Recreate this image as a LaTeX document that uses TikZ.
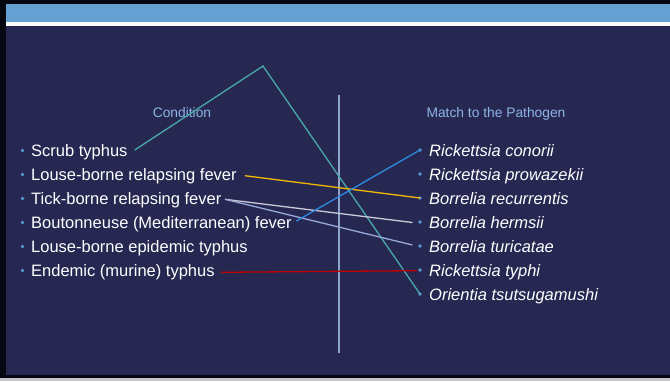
\documentclass[tikz,border=0pt]{standalone}
\usepackage{fontspec}
\setmainfont{Liberation Sans}
\usetikzlibrary{calc}
\definecolor{navy}{HTML}{262852}
\definecolor{band}{HTML}{64A0D2}
\definecolor{framek}{HTML}{050810}
\definecolor{greyb}{HTML}{C4C4C4}
\definecolor{headc}{HTML}{8EB4E3}
\definecolor{bulc}{HTML}{5B9BD5}
\definecolor{vline}{HTML}{8FA3CF}
\definecolor{tealc}{HTML}{4AA8A8}
\definecolor{goldc}{HTML}{F5B800}
\definecolor{bluec}{HTML}{2E8BE0}
\definecolor{whitec}{HTML}{C9CAD6}
\definecolor{lavc}{HTML}{9AAAD8}
\definecolor{redc}{HTML}{C00000}
\tikzset{
  item/.style={anchor=base west,inner sep=0pt,text=white,font=\fontsize{16.5}{20}\selectfont},
  ritem/.style={item,font=\fontsize{16.5}{20}\selectfont\itshape},
  head/.style={anchor=base,inner sep=0pt,text=headc,font=\fontsize{13.8}{16}\selectfont},
  dot/.style={circle,fill=bulc,inner sep=0pt,minimum size=3.6pt},
  link/.style={line width=1.3pt},
}
\begin{document}
\begin{tikzpicture}[x=1pt,y=-1pt]
\useasboundingbox (0,0) rectangle (670,381);
% frame and background
\fill[framek] (0,0) rectangle (670,381);
\fill[greyb] (0,378) rectangle (670,381);
\fill[band] (6,4) rectangle (670,22);
\fill[white] (6,22) rectangle (670,26);
\fill[navy] (6,26) rectangle (670,375);
% headings
\node[head] (hc) at (182,117) {Condition};
\node[head] (hm) at (496,117) {Match to the Pathogen};
% divider
\coordinate (vt) at (339,95);
\coordinate (vb) at (339,353);
\draw[vline,line width=1.3pt] (vt) -- (vb);
% left items
\foreach \i/\t in {1/Scrub typhus,2/Louse-borne relapsing fever,3/Tick-borne relapsing fever,4/Boutonneuse (Mediterranean) fever,5/Louse-borne epidemic typhus,6/Endemic (murine) typhus}{
  \node[dot] (lb\i) at (22.5,{150.5+24*(\i-1)}) {};
  \node[item] (l\i) at (31,{156.5+24*(\i-1)}) {\t};
}
% right items
\foreach \i/\t in {1/Rickettsia conorii,2/Rickettsia prowazekii,3/Borrelia recurrentis,4/Borrelia hermsii,5/Borrelia turicatae,6/Rickettsia typhi,7/Orientia tsutsugamushi}{
  \node[dot] (r\i) at (420,{150+24*(\i-1)}) {};
  \node[ritem] (rt\i) at (429,{156+24*(\i-1)}) {\t};
}
% connectors
\coordinate (apex) at (263,66);
\draw[link,tealc] ($(l1.base east)+(7,-6.5)$) -- (apex) -- (r7.center);
\draw[link,goldc] ($(l2.base east)+(8,-4.8)$) -- (r3.center);
\draw[link,whitec] ($(l3.base east)+(3.5,-5.2)$) -- ($(r4.center)+(-7.5,0.5)$);
\draw[link,lavc] ($(l3.base east)+(3.5,-5.2)$) -- ($(r5.center)+(-7.5,-1)$);
\draw[link,bluec] ($(l4.base east)+(4.5,-7.5)$) -- (r1.center);
\draw[link,redc] ($(l6.base east)+(6,-4.2)$) -- ($(r6.center)+(-3,0.7)$);
\end{tikzpicture}
\end{document}
